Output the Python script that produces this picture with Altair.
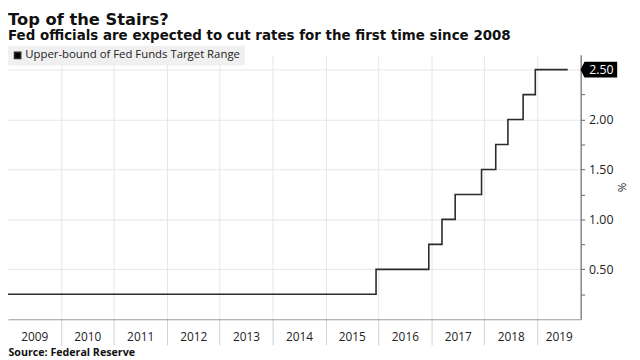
import altair as alt
import pandas as pd

# Data: upper bound of Fed Funds target range (step changes)
dates = ["2009-01-01", "2015-12-16", "2016-12-14", "2017-03-15", "2017-06-14",
         "2017-12-13", "2018-03-21", "2018-06-13", "2018-09-26", "2018-12-19",
         "2019-07-31"]
values = [0.25, 0.50, 0.75, 1.00, 1.25, 1.50, 1.75, 2.00, 2.25, 2.50, 2.50]
series_name = "Upper-bound of Fed Funds Target Range"

year_starts = [f"{y}-01-01" for y in range(2010, 2020)]
label_pos = [f"{y}-07-02" for y in range(2009, 2019)] + ["2019-05-30"]
x_domain = ["2009-01-01", "2019-10-28"]
last_value = values[-1]

df = pd.DataFrame({"date": pd.to_datetime(dates), "rate": values, "series": series_name})
tag_df = pd.DataFrame({"rate": [last_value], "label": [f"{last_value:.2f}"]})

W, H = 580, 268
FONT = "Open Sans"
NARROW = "Liberation Sans Narrow, Open Sans"
TFONT = "DejaVu Sans"

xscale = alt.Scale(domain=x_domain)
yscale = alt.Scale(domain=[0, 2.65])

line = alt.Chart(df).mark_line(interpolate="step-after", strokeWidth=1.6).encode(
    x=alt.X("date:T", scale=xscale,
            axis=alt.Axis(orient="bottom", values=year_starts, labels=False, tickSize=26,
                          tickColor="#cfcfcf", gridColor="#e6e6e6", grid=True, domain=True,
                          domainColor="#9a9a9a", title=None)),
    y=alt.Y("rate:Q", scale=yscale,
            axis=alt.Axis(orient="right",
                          values=[0.25, 0.5, 0.75, 1.0, 1.25, 1.5, 1.75, 2.0, 2.25, 2.5],
                          labelExpr="(datum.value % 0.5 == 0 && datum.value < 2.4) ? format(datum.value, '.2f') : ''",
                          grid=True,
                          gridOpacity={"condition": {"test": "datum.value % 0.5 == 0", "value": 1}, "value": 0},
                          gridColor="#e6e6e6",
                          tickSize=4, tickColor="#666666",
                          domainColor="#666666", domainWidth=1.2,
                          labelFont=FONT, labelFontSize=12.5, labelColor="#222222", labelPadding=4,
                          title="%", titleFont=FONT, titleFontWeight="normal", titleFontSize=11.5,
                          titleColor="#222222", titlePadding=3, titleAngle=90)),
    color=alt.Color("series:N", scale=alt.Scale(range=["#2b2b2b"]),
                    legend=alt.Legend(title=None, orient="none", legendX=0, legendY=-9,
                                      fillColor="#f0f0f0", padding=4, symbolType="square",
                                      symbolSize=40, symbolFillColor="#000000",
                                      symbolStrokeColor="#000000", labelLimit=0,
                                      labelFont=NARROW, labelFontSize=11.5, labelColor="#222222",
                                      labelOffset=2)),
)

labels_layer = alt.Chart(pd.DataFrame({"date": pd.to_datetime(label_pos)})).mark_point(opacity=0).encode(
    x=alt.X("date:T", scale=xscale,
            axis=alt.Axis(orient="bottom", values=label_pos,
                          labelExpr="timeFormat(datum.value, '%Y')",
                          ticks=False, grid=False, domain=False, labelFont=FONT,
                          labelFontSize=12, labelColor="#222222", labelPadding=13,
                          title="Source:  Federal Reserve", titleFont=FONT, titleFontSize=10.8,
                          titleFontWeight="bold", titleColor="#111111", titleAnchor="start",
                          titleAlign="left", titleX=0, titleY=37, titleBaseline="alphabetic")),
)

tag = alt.Chart(tag_df).mark_point(
    shape="M-1,0 L-0.8,-0.4 L1,-0.4 L1,0.4 L-0.8,0.4 Z",
    filled=True, fill="#000000", stroke="#000000", opacity=1, size=1225,
).encode(
    x=alt.value(W + 18.5),
    y=alt.Y("rate:Q", scale=yscale, axis=None),
)

tag_text = alt.Chart(tag_df).mark_text(
    color="#ffffff", font=FONT, fontSize=12.5, align="center", baseline="middle", dy=0,
).encode(
    x=alt.value(W + 21),
    y=alt.Y("rate:Q", scale=yscale, axis=None),
    text="label:N",
)

chart = alt.layer(line, labels_layer, tag, tag_text).resolve_axis(
    x="independent", y="independent"
).properties(
    width=W, height=H,
    autosize=alt.AutoSizeParams(type="none"),
    padding={"left": 0, "top": 45, "right": 52, "bottom": 39},
    title=alt.TitleParams(
        text="Top of the Stairs?",
        subtitle="Fed officials are expected to cut rates for the first time since 2008",
        anchor="start", frame="group", font=TFONT, fontSize=16.5, fontWeight="bold", color="#111111",
        subtitleFont=TFONT, subtitleFontSize=13.6, subtitleFontWeight="bold",
        subtitleColor="#111111", subtitlePadding=1, offset=3,
    ),
).configure_view(stroke=None)

chart.save("out.html", embed_options={"renderer": "svg", "actions": False})
